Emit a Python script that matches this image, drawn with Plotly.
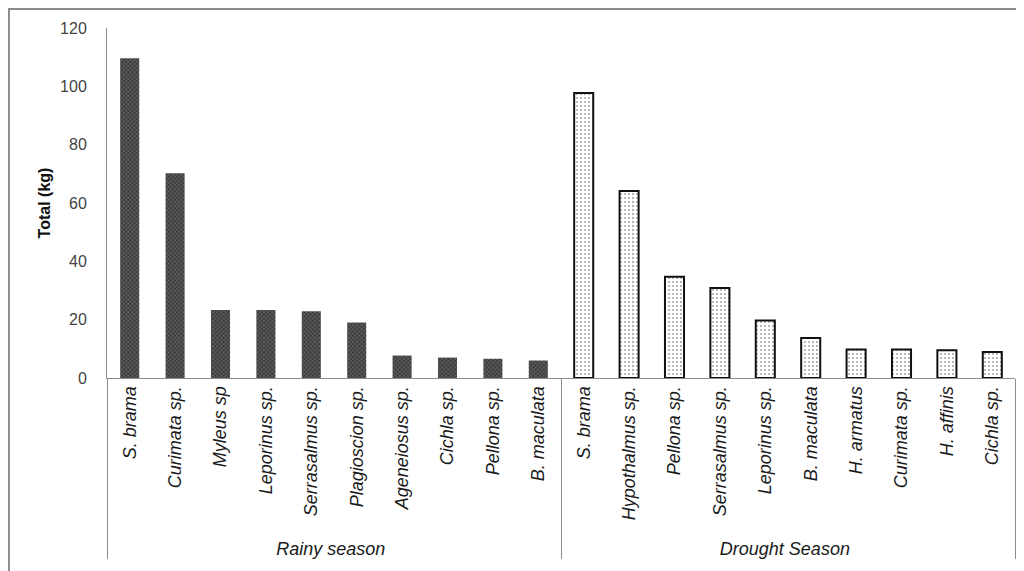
import plotly.graph_objects as go

# ---- data ----
rainy_species = ["S. brama", "Curimata sp.", "Myleus sp", "Leporinus sp.", "Serrasalmus sp.",
                 "Plagioscion sp.", "Ageneiosus sp.", "Cichla sp.", "Pellona sp.", "B. maculata"]
rainy_kg = [109.6, 70.2, 23.3, 23.3, 22.9, 19.0, 7.7, 7.0, 6.6, 6.0]

drought_species = ["S. brama", "Hypothalmus sp.", "Pellona sp.", "Serrasalmus sp.", "Leporinus sp.",
                   "B. maculata", "H. armatus", "Curimata sp.", "H. affinis", "Cichla sp."]
drought_kg = [97.7, 64.1, 34.7, 30.9, 19.7, 13.7, 9.8, 9.8, 9.5, 8.9]

season_labels = ["Rainy season", "Drought Season"]
y_ticks = [0, 20, 40, 60, 80, 100, 120]
y_title = "Total (kg)"

FONT = "Liberation Sans"
AXIS_GRAY = "#8c8c8c"

# one trace; a zero-width space keeps the drought names distinct from the
# rainy ones so that plotly keeps each season's own order
ZW = "\u200b"
groups = [season_labels[0]] * len(rainy_species) + [season_labels[1]] * len(drought_species)
species = rainy_species + [s + ZW for s in drought_species]
values = rainy_kg + drought_kg

# per-season styling
style = {
    season_labels[0]: dict(shape="x", fg="#c8c8c8", bg="#3e3e3e", size=3, sol=0.2, lw=0),
    season_labels[1]: dict(shape=".", fg="#666666", bg="#ffffff", size=4, sol=0.2, lw=2),
}

fig = go.Figure(go.Bar(
    x=[groups, species],
    y=values,
    marker=dict(
        color=[style[g]["bg"] for g in groups],
        line=dict(width=[style[g]["lw"] for g in groups], color="#111111"),
        pattern=dict(
            shape=[style[g]["shape"] for g in groups],
            fgcolor=[style[g]["fg"] for g in groups],
            bgcolor=[style[g]["bg"] for g in groups],
            size=[style[g]["size"] for g in groups],
            solidity=[style[g]["sol"] for g in groups],
        ),
    ),
    showlegend=False,
))

fig.update_layout(
    width=1016, height=563,
    margin=dict(l=99, r=9, t=20, b=193, autoexpand=False),
    paper_bgcolor="white", plot_bgcolor="white",
    bargap=0.58,
    font=dict(family=FONT, size=16, color="#333333"),
    xaxis=dict(
        type="multicategory",
        tickangle=-90,
        tickfont=dict(family=FONT, size=18, style="italic", color="#1a1a1a"),
        showline=True, linecolor=AXIS_GRAY, linewidth=1,
        showdividers=True, dividercolor=AXIS_GRAY, dividerwidth=1,
        ticks="", showgrid=False, automargin=False,
    ),
    yaxis=dict(
        range=[0, 120], tickvals=y_ticks,
        showline=True, linecolor=AXIS_GRAY, linewidth=1,
        showgrid=False, zeroline=False, ticks="",
        ticklabelstandoff=16,
        tickfont=dict(family=FONT, size=16, color="#444444"),
        title=dict(text="<b>" + y_title + "</b>", font=dict(family=FONT, size=16, color="#111111"), standoff=5),
        automargin=False,
    ),
    shapes=[
        dict(type="line", xref="paper", yref="paper", x0=-0.109, x1=1.02, y0=1.054, y1=1.054,
             line=dict(color=AXIS_GRAY, width=2)),
        dict(type="line", xref="paper", yref="paper", x0=-0.108, x1=-0.108, y0=1.054, y1=-0.6,
             line=dict(color=AXIS_GRAY, width=2)),
    ],
)

fig.write_html("out.html")
